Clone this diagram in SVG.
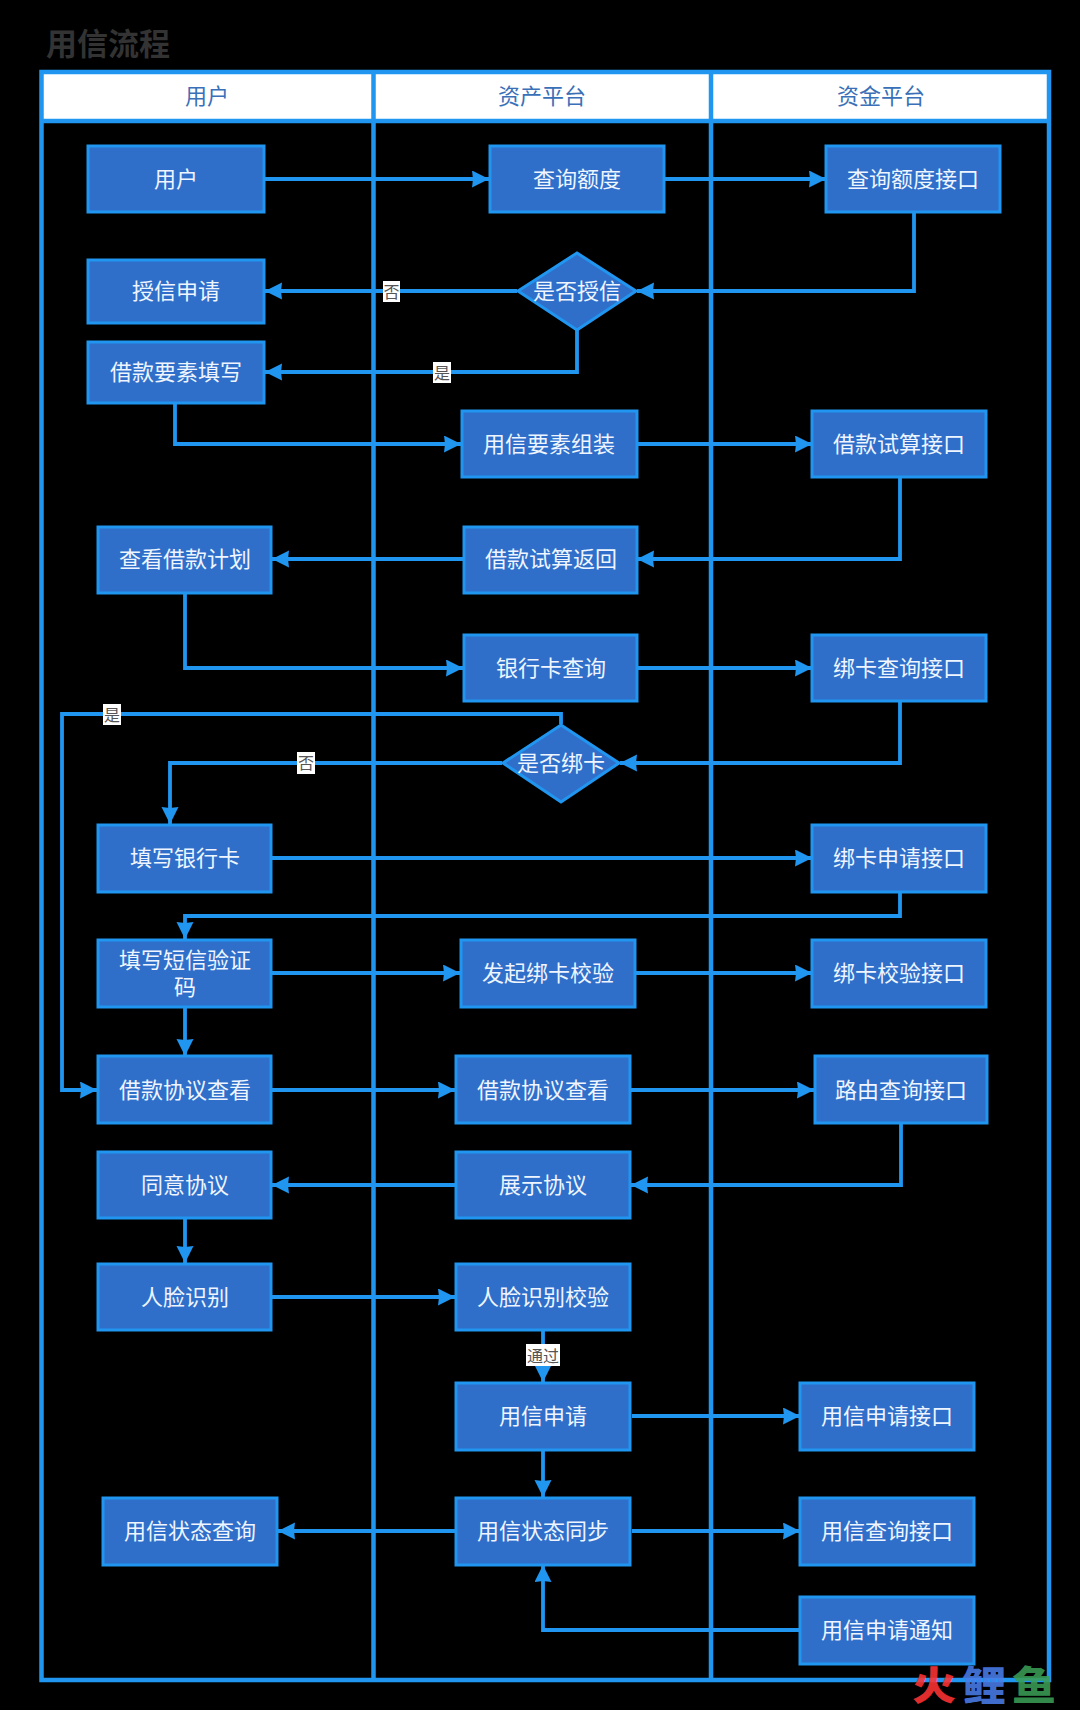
<svg xmlns="http://www.w3.org/2000/svg" width="1080" height="1710" viewBox="0 0 1080 1710">
<style>
text{font-family:"Liberation Sans","Noto Sans CJK SC",sans-serif;text-anchor:middle;dominant-baseline:central}
.n rect,.n polygon{fill:#2f6fca;stroke:#2196f0;stroke-width:3}
.n text{fill:#eef5ff;font-size:22px}
.h{fill:#3a70b8;font-size:22px}
.f{fill:none;stroke:#2196f0;stroke-width:4.500}
.c{fill:none;stroke:#2196f0;stroke-width:3.800;marker-end:url(#a)}
.lb{fill:#fff}
.lt{fill:#555;font-size:16px;transform:translateY(1px)}
</style>
<defs><marker id="a" markerUnits="userSpaceOnUse" markerWidth="19" markerHeight="19" refX="17" refY="8.500" orient="auto"><path d="M0 0L17 8.500L0 17L1 8.500Z" fill="#2196f0"/></marker></defs>
<rect width="1080" height="1710" fill="#000"/>
<text x="108" y="44" font-size="31" font-weight="700" fill="#333">用信流程</text>
<g id="lanes">
<rect x="41.500" y="72" width="1007.500" height="49" fill="#fff"/>
<rect class="f" x="41.500" y="72" width="1007.500" height="1608"/>
<path class="f" d="M41.500 121H1049M373.500 72V1680M711 72V1680"/>
<text class="h" x="207" y="96">用户</text><text class="h" x="542" y="96">资产平台</text><text class="h" x="881" y="96">资金平台</text>
</g>
<g id="connectors">
<path class="c" d="M265 179H489"/>
<path class="c" d="M664 179H826"/>
<path class="c" d="M914 213V291H637"/>
<path class="c" d="M517 291H265"/>
<path class="c" d="M577 330V372H265"/>
<path class="c" d="M175 404V444H461"/>
<path class="c" d="M637 444H812"/>
<path class="c" d="M900 477V559H637"/>
<path class="c" d="M463 559H272"/>
<path class="c" d="M185 593V668H463"/>
<path class="c" d="M637 668H812"/>
<path class="c" d="M900 701V763H620"/>
<path class="c" d="M561 724V714H62V1090H97"/>
<path class="c" d="M502 763H170V824"/>
<path class="c" d="M272 858H812"/>
<path class="c" d="M900 892V916H185V939"/>
<path class="c" d="M272 973H460"/>
<path class="c" d="M636 973H812"/>
<path class="c" d="M185 1007V1056"/>
<path class="c" d="M272 1090H455"/>
<path class="c" d="M631 1090H814"/>
<path class="c" d="M901 1123V1185H631"/>
<path class="c" d="M455 1185H272"/>
<path class="c" d="M185 1218V1263"/>
<path class="c" d="M272 1297H455"/>
<path class="c" d="M543 1330V1382"/>
<path class="c" d="M632 1416H800"/>
<path class="c" d="M543 1451V1497"/>
<path class="c" d="M632 1531H800"/>
<path class="c" d="M455 1531H278"/>
<path class="c" d="M800 1630H543V1565"/>
<g id="edge-labels">
<rect class="lb" x="383" y="281" width="17" height="21"/><text class="lt" x="391.500" y="291">否</text>
<rect class="lb" x="433" y="362" width="18" height="21"/><text class="lt" x="442" y="372">是</text>
<rect class="lb" x="103" y="704" width="18" height="21"/><text class="lt" x="112" y="714">是</text>
<rect class="lb" x="297" y="752" width="18" height="22"/><text class="lt" x="306" y="762">否</text>
<rect class="lb" x="526" y="1344" width="34" height="22"/><text class="lt" x="543" y="1355">通过</text>
</g>
</g>
<g id="n1" class="n"><rect x="88" y="146" width="176" height="66"/><text x="176" y="179">用户</text></g>
<g id="n2" class="n"><rect x="88" y="260" width="176" height="63"/><text x="176" y="291">授信申请</text></g>
<g id="n3" class="n"><rect x="88" y="342" width="176" height="61"/><text x="176" y="372">借款要素填写</text></g>
<g id="n4" class="n"><rect x="490" y="146" width="174" height="66"/><text x="577" y="179">查询额度</text></g>
<g id="n5" class="n"><rect x="826" y="146" width="174" height="66"/><text x="913" y="179">查询额度接口</text></g>
<g id="n6" class="n"><polygon points="577,253 636,291 577,330 518,291"/><text x="577" y="291">是否授信</text></g>
<g id="n7" class="n"><rect x="462" y="411" width="175" height="66"/><text x="549" y="444">用信要素组装</text></g>
<g id="n8" class="n"><rect x="812" y="411" width="174" height="66"/><text x="899" y="444">借款试算接口</text></g>
<g id="n9" class="n"><rect x="464" y="527" width="173" height="66"/><text x="551" y="559">借款试算返回</text></g>
<g id="n10" class="n"><rect x="98" y="527" width="173" height="66"/><text x="185" y="559">查看借款计划</text></g>
<g id="n11" class="n"><rect x="464" y="635" width="173" height="66"/><text x="551" y="668">银行卡查询</text></g>
<g id="n12" class="n"><rect x="812" y="635" width="174" height="66"/><text x="899" y="668">绑卡查询接口</text></g>
<g id="n13" class="n"><polygon points="561,725 619,763 561,802 503,763"/><text x="561" y="763">是否绑卡</text></g>
<g id="n14" class="n"><rect x="98" y="825" width="173" height="67"/><text x="185" y="858">填写银行卡</text></g>
<g id="n15" class="n"><rect x="812" y="825" width="174" height="67"/><text x="899" y="858">绑卡申请接口</text></g>
<g id="n16" class="n"><rect x="98" y="940" width="173" height="67"/><text x="185" y="960">填写短信验证</text><text x="185" y="987">码</text></g>
<g id="n17" class="n"><rect x="461" y="940" width="174" height="67"/><text x="548" y="973">发起绑卡校验</text></g>
<g id="n18" class="n"><rect x="812" y="940" width="174" height="67"/><text x="899" y="973">绑卡校验接口</text></g>
<g id="n19" class="n"><rect x="98" y="1056" width="173" height="67"/><text x="185" y="1090">借款协议查看</text></g>
<g id="n20" class="n"><rect x="456" y="1056" width="174" height="67"/><text x="543" y="1090">借款协议查看</text></g>
<g id="n21" class="n"><rect x="815" y="1056" width="172" height="67"/><text x="901" y="1090">路由查询接口</text></g>
<g id="n22" class="n"><rect x="98" y="1152" width="173" height="66"/><text x="185" y="1185">同意协议</text></g>
<g id="n23" class="n"><rect x="456" y="1152" width="174" height="66"/><text x="543" y="1185">展示协议</text></g>
<g id="n24" class="n"><rect x="98" y="1264" width="173" height="66"/><text x="185" y="1297">人脸识别</text></g>
<g id="n25" class="n"><rect x="456" y="1264" width="174" height="66"/><text x="543" y="1297">人脸识别校验</text></g>
<g id="n26" class="n"><rect x="456" y="1383" width="174" height="67"/><text x="543" y="1416">用信申请</text></g>
<g id="n27" class="n"><rect x="800" y="1383" width="174" height="67"/><text x="887" y="1416">用信申请接口</text></g>
<g id="n28" class="n"><rect x="456" y="1498" width="174" height="67"/><text x="543" y="1531">用信状态同步</text></g>
<g id="n29" class="n"><rect x="800" y="1498" width="174" height="67"/><text x="887" y="1531">用信查询接口</text></g>
<g id="n30" class="n"><rect x="103" y="1498" width="174" height="67"/><text x="190" y="1531">用信状态查询</text></g>
<g id="n31" class="n"><rect x="800" y="1597" width="174" height="67"/><text x="887" y="1630">用信申请通知</text></g>
<g id="watermark" font-size="40" font-weight="900">
<text transform="translate(934 1686) scale(1.100 1)" fill="#f33" fill-opacity=".9">火</text><text transform="translate(984 1686) scale(1.100 1)" fill="#4a7de8" fill-opacity=".9">鲤</text><text transform="translate(1034 1686) scale(1.100 1)" fill="#3a9d55" fill-opacity=".9">鱼</text>
</g>
</svg>
